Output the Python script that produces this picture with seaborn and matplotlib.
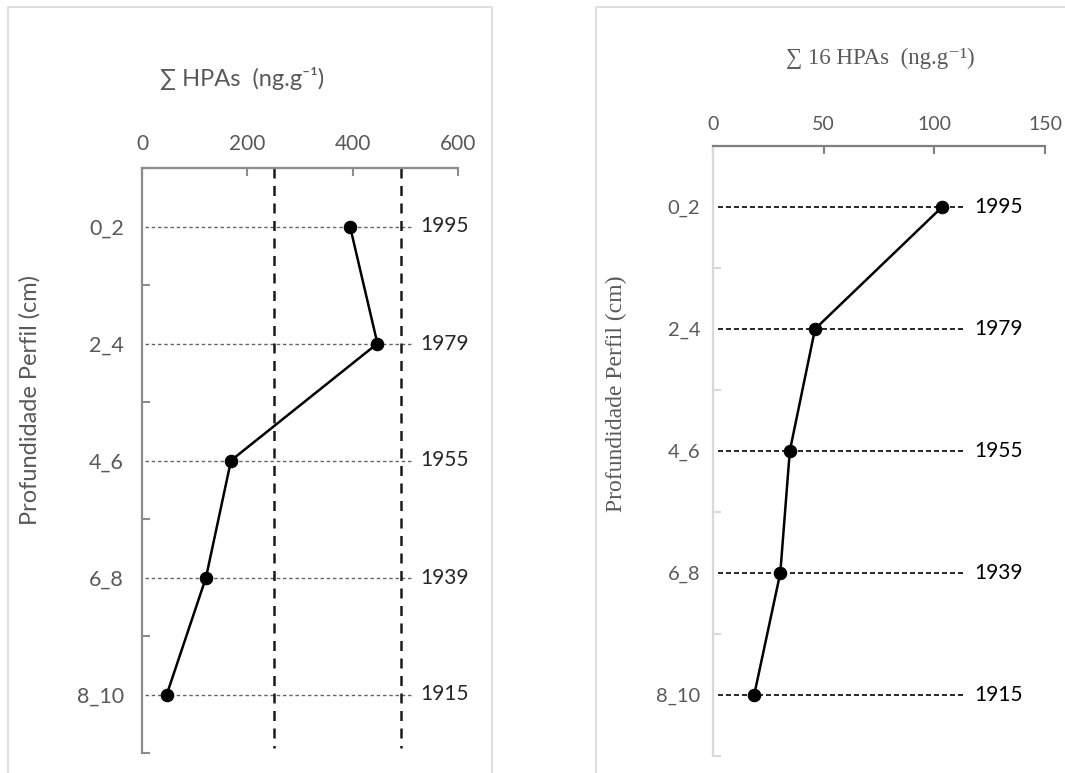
import matplotlib
matplotlib.use("Agg")
import matplotlib.pyplot as plt
from matplotlib.patches import Rectangle
from matplotlib.ticker import FixedLocator, NullFormatter
import seaborn as sns
import numpy as np

# Depth intervals and their estimated deposition years
depths = ["0_2", "2_4", "4_6", "6_8", "8_10"]
years = ["1995", "1979", "1955", "1939", "1915"]

# Total PAHs (ng/g) per depth interval
hpa_total = [395, 447, 169, 121.5, 47]
# Sum of the 16 priority PAHs (ng/g) per depth interval
hpa_16 = [103.5, 46.1, 34.7, 30.4, 18.6]

# Reference threshold levels on the total-PAH panel
thresholds = [250, 491]

left_xticks = [0, 200, 400, 600]
right_xticks = [0, 50, 100, 150]

sns.set_theme(style="white")
plt.rcParams["font.family"] = ["Lato", "DejaVu Sans"]

W, H = 1065, 773
fig = plt.figure(figsize=(W / 100, H / 100), dpi=100)

GREY_TXT = "#595959"
SERIF = ["Liberation Serif", "DejaVu Serif"]
SANS = ["Lato", "DejaVu Sans"]

# panel frames
fig.patches.append(Rectangle((7.5 / W, -0.01), 484 / W, 1.01 - 7.5 / H,
                             transform=fig.transFigure, fill=False,
                             edgecolor="#d9d9d9", lw=1.2))
fig.patches.append(Rectangle((595.5 / W, -0.01), 600 / W, 1.01 - 7.5 / H,
                             transform=fig.transFigure, fill=False,
                             edgecolor="#d9d9d9", lw=1.2))

pos = np.arange(1, len(depths) + 1)


def style_axis(ax, xticks, xlim, ylim, spine_x, spine_y, xsize, ysize, xpad, ypad):
    ax.set_xlim(*xlim)
    ax.set_ylim(*ylim)
    ax.xaxis.tick_top()
    ax.set_xticks(xticks)
    ax.set_xticklabels([str(t) for t in xticks])
    ax.set_yticks(pos)
    ax.set_yticklabels(depths)
    ax.yaxis.set_minor_locator(FixedLocator(np.arange(0.5, len(depths) + 1, 1.0)))
    ax.yaxis.set_minor_formatter(NullFormatter())
    for s in ["right", "bottom"]:
        ax.spines[s].set_visible(False)
    ax.spines["top"].set_color(spine_x)
    ax.spines["top"].set_linewidth(1.6)
    ax.spines["left"].set_color(spine_y)
    ax.spines["left"].set_linewidth(1.6)
    ax.tick_params(axis="x", which="major", top=True, bottom=False, direction="in",
                   length=6, width=1.5, color=spine_x, labelsize=xsize,
                   labelcolor=GREY_TXT, pad=xpad)
    ax.tick_params(axis="y", which="major", left=True, length=0, labelsize=ysize,
                   labelcolor=GREY_TXT, pad=ypad)
    ax.tick_params(axis="y", which="minor", left=True, direction="in", length=6,
                   width=1.5, color=spine_y)
    ax.set_xlabel("")
    ax.set_ylabel("")
    ax.grid(False)
    ax.set_facecolor("none")


# ---- left panel: total PAHs ----
axL = fig.add_axes([142 / W, 1 - 753 / H, 316 / W, 585 / H])
axL.hlines(pos, 6, 515, colors="#666666", lw=1.0, linestyles=(0, (2.5, 2)))
axL.vlines(thresholds, 0.5, 5.46, colors="#1a1a1a", lw=1.8, linestyles=(0, (4, 3)))
sns.lineplot(x=hpa_total, y=pos, sort=False, estimator=None, ax=axL, color="black",
             lw=1.8, marker="o", markersize=9, markeredgecolor="black")
for p, yr in zip(pos, years):
    axL.text(528, p, yr, ha="left", va="center", fontsize=15, color="#262626",
             family=SANS)
style_axis(axL, left_xticks, (0, 600), (5.5, 0.5), "#8c8c8c", "#8c8c8c",
           15, 15.5, 10, 13)

fig.text(242 / W, 1 - 78 / H, "∑ HPAs  (ng.g⁻¹)", ha="center", va="center",
         fontsize=17, color=GREY_TXT, family=SANS)
fig.text(30 / W, 1 - 400 / H, "Profundidade Perfil (cm)", rotation=90, ha="center",
         va="center", fontsize=17, color=GREY_TXT, family=SANS)

# ---- right panel: 16 priority PAHs ----
axR = fig.add_axes([713 / W, 1 - 756 / H, 332 / W, 610 / H])
axR.hlines(pos, 2.3, 114.5, colors="black", lw=1.2, linestyles=(0, (3, 1.8)))
sns.lineplot(x=hpa_16, y=pos, sort=False, estimator=None, ax=axR, color="black",
             lw=1.8, marker="o", markersize=9, markeredgecolor="black")
for p, yr in zip(pos, years):
    axR.text(118.2, p, yr, ha="left", va="center", fontsize=15, color="black",
             family=SANS)
style_axis(axR, right_xticks, (0, 150), (5.5, 0.5), "#7f7f7f", "#d9d9d9",
           14, 14.5, 9.5, 9)

fig.text(880 / W, 1 - 58 / H, "∑ 16 HPAs  (ng.g⁻¹)", ha="center", va="center",
         fontsize=16.5, color=GREY_TXT, family=SERIF)
fig.text(616 / W, 1 - 394 / H, "Profundidade Perfil (cm)", rotation=90, ha="center",
         va="center", fontsize=17, color=GREY_TXT, family=SERIF)

fig.savefig("out.png", dpi=100, facecolor="white")
